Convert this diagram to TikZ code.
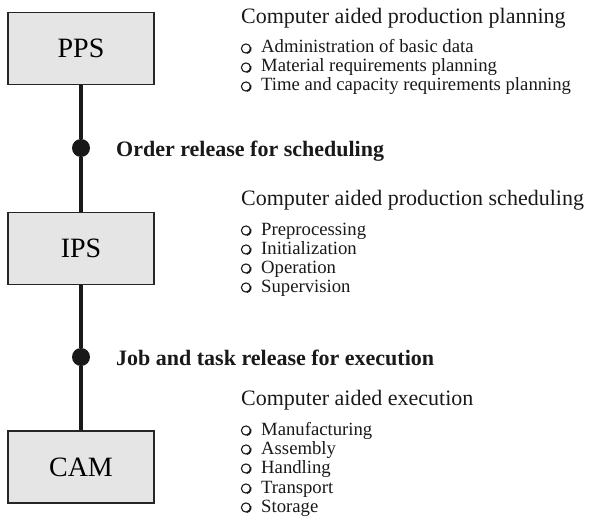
\documentclass[tikz,border=0pt]{standalone}
\usepackage{fontspec}
\setmainfont{Liberation Serif}
\begin{document}
\begin{tikzpicture}[x=1pt,y=1pt,
  sysbox/.style={draw=black!85, line width=1.2pt, fill=black!10,
    minimum width=146pt, minimum height=72pt, inner sep=0pt,
    font=\fontsize{28}{32}\selectfont},
  flowline/.style={line width=3.4pt, black!90},
  gate/.style={circle, fill=black!90, minimum size=18pt, inner sep=0pt},
  gatelabel/.style={anchor=base west, inner sep=0pt,
    font=\fontsize{22}{26}\selectfont\bfseries, black!90},
  heading/.style={anchor=base west, inner sep=0pt,
    font=\fontsize{22}{26}\selectfont, black!90},
  itemtext/.style={anchor=base west, inner sep=0pt,
    font=\fontsize{18.7}{22}\selectfont, black!90},
  ring/.style={draw=black!90, line width=1.1pt},
  ringshade/.style={draw=black!90, line width=1.7pt}
]
\useasboundingbox (0,0) rectangle (589,-527);

% one bulleted entry: name, baseline depth, text
\newcommand\listentry[3]{%
  \node[itemtext] (#1) at (261,-#2) {#3};
  \draw[ring] ([xshift=-15pt,yshift=4.5pt]#1.base west) circle (4.6pt);
  \draw[ringshade] ([xshift=-15pt,yshift=4.5pt]#1.base west)
     ++(-80:4.7pt) arc[start angle=-80, end angle=20, radius=4.7pt];
}

% system levels
\node[sysbox] (pps) at (81,-48.5) {PPS};
\node[sysbox] (ips) at (81,-248.5) {IPS};
\node[sysbox] (cam) at (81,-467) {CAM};

% release points on the vertical chain
\node[gate] (g1) at (81,-148) {};
\node[gate] (g2) at (81,-357) {};

\draw[flowline] (pps.south) -- (g1) -- (ips.north);
\draw[flowline] (ips.south) -- (g2) -- (cam.north);

\node[gatelabel] (l1) at (116,-156) {Order release for scheduling};
\node[gatelabel] (l2) at (116,-365) {Job and task release for execution};

% production planning
\node[heading] (h1) at (241,-24) {Computer aided production planning};
\listentry{a1}{53}{Administration of basic data}
\listentry{a2}{72}{Material requirements planning}
\listentry{a3}{91}{Time and capacity requirements planning}

% production scheduling
\node[heading] (h2) at (241,-205) {Computer aided production scheduling};
\listentry{b1}{235}{Preprocessing}
\listentry{b2}{254}{Initialization}
\listentry{b3}{273}{Operation}
\listentry{b4}{292}{Supervision}

% execution
\node[heading] (h3) at (241,-405) {Computer aided execution};
\listentry{c1}{435}{Manufacturing}
\listentry{c2}{454}{Assembly}
\listentry{c3}{473}{Handling}
\listentry{c4}{493}{Transport}
\listentry{c5}{512}{Storage}
\end{tikzpicture}
\end{document}
